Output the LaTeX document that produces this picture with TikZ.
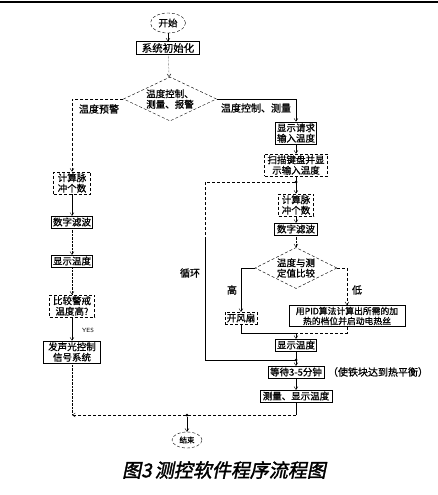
\documentclass[tikz,border=0pt]{standalone}
\usepackage{fontspec}
\newfontfamily\cjk[FakeBold=0.8]{Noto Sans CJK SC}
\newfontfamily\capfont[FakeSlant=0.2,FakeBold=1.8]{Noto Sans CJK SC}
\usetikzlibrary{shapes.geometric, arrows.meta, positioning}
\tikzstyle{arrow} = [
    thin,
    ->,
    >={Straight Barb[length=3pt,width=4pt]}
]

\begin{document}
\begin{tikzpicture}[
    x=1pt, y=-1pt,
    proc/.style={
        draw,
        thin,
        fill=white,
        inner sep=1.5pt,
        font=\cjk\fontsize{9.5}{10.5}\selectfont,
        align=center
    },
    dproc/.style={proc, densely dashed},
    decision/.style={
        draw,
        densely dashed,
        diamond,
        inner sep=0pt,
        aspect=2.1,
        font=\cjk\fontsize{9.5}{10.5}\selectfont,
        align=center
    },
    term/.style={draw, densely dashed, ellipse, inner sep=1pt, font=\cjk\fontsize{9.5}{10}\selectfont},
    lbl/.style={font=\cjk\fontsize{10}{11}\selectfont},
    jdot/.style={circle, fill, inner sep=0pt, minimum size=3pt}
]
\useasboundingbox (0,0) rectangle (438,495);
\draw[line width=1.5pt] (0,2) -- (438,2);

% Nodes
\node[term, minimum width=35pt, minimum height=20pt] (start) at (168,23) {开始};
\node[proc, minimum width=63pt, font=\cjk\fontsize{10.5}{11}\selectfont] (init) at (168,48) {系统初始化};
\node[decision, minimum width=93pt, minimum height=44pt] (d1) at (170,99) {温度控制、\\测量、报警};

\node[dproc, minimum width=37pt] (lcnt) at (72,183) {计算脉\\冲个数};
\node[proc, minimum width=40pt] (lflt) at (72,222) {数字滤波};
\node[proc, minimum width=38pt] (lshow) at (72,261) {显示温度};
\node[dproc, minimum width=45pt] (lcmp) at (72,306) {比较警戒\\温度高?};
\node[proc, minimum width=57pt] (alarm) at (72,352) {发声光控制\\信号系统};

\node[proc, minimum width=39pt] (req) at (296,133) {显示请求\\输入温度};
\node[dproc, minimum width=63pt] (scan) at (296,165) {扫描键盘并显\\示输入温度};
\node[dproc, minimum width=35pt] (rcnt) at (296,205) {计算脉\\冲个数};
\node[proc, minimum width=43pt] (rflt) at (296,229) {数字滤波};
\node[decision, minimum width=82pt, minimum height=41pt] (d2) at (296,268) {温度与测\\定值比较};
\node[dproc, minimum width=28pt] (fan) at (241,318) {开风扇};
\node[proc, minimum width=116pt, font=\cjk\fontsize{8.8}{10}\selectfont] (pid) at (347,316) {用PID算法计算出所需的加\\热的档位并启动电热丝};
\node[proc, minimum width=40pt] (rshow) at (296,345) {显示温度};
\node[proc, minimum width=56pt] (wait) at (296,372) {等待3-5分钟};
\node[proc, minimum width=72pt] (meas) at (296,396) {测量、显示温度};
\node[term, minimum width=30pt, minimum height=16pt, font=\cjk\fontsize{7.5}{8}\selectfont] (stop) at (187,440) {结束};

% Junctions
\coordinate (j1) at (296,182);
\coordinate (j3) at (296,333);
\coordinate (j2) at (296,360);
\coordinate (loopb) at (205,360);
\coordinate (loopc) at (205,240);
\coordinate (loopt) at (205,182);
\coordinate (rend) at (296,415);
\coordinate (lend) at (72,415);
\node[jdot] (j4) at (187,415) {};
\node[jdot] at (j1) {};
\node[jdot] at (j2) {};

% Labels
\node[lbl] (lblwarn) at (99,109) {温度预警};
\node[lbl] (lblctrl) at (256,108) {温度控制、测量};
\node[font=\sffamily\fontsize{6}{6}\selectfont] (lblyes) at (88,330) {YES};
\node[lbl] (lblhigh) at (232,290) {高};
\node[lbl] (lbllow) at (357,290) {低};
\node[lbl] (lblloop) at (190,273) {循环};
\node[lbl] (note) at (378,372) {（使铁块达到热平衡）};
\node[font=\capfont\fontsize{19}{21}\selectfont] (caption) at (224,470) {图3\,测控软件程序流程图};

% Arrows
\draw[arrow] (start) -- (init);
\draw[arrow, densely dotted] (init) -- (d1);
\draw[arrow, densely dashed] (d1.west) -| (lcnt.north);
\draw[arrow] (d1.east) -| (req.north);
\draw[arrow] (lcnt) -- (lflt);
\foreach \from/\to in {lflt/lshow, lshow/lcmp} {
    \draw[arrow, densely dotted] (\from) -- (\to);
}
\draw[arrow] (lcmp) -- (alarm);
\draw[densely dotted] (alarm) -- (lend);

\draw[arrow] (req) -- (scan);
\draw (scan) -- (j1);
\draw[arrow] (j1) -- (rcnt);
\draw[arrow] (rcnt) -- (rflt);
\draw[arrow, densely dotted] (rflt) -- (d2);
\draw[arrow] (d2.west) -| (fan.north);
\draw[arrow, densely dashed] (d2.east) -| (pid.north);
\draw (fan.south) |- (j3);
\draw[densely dashed] (pid.south) |- (j3);
\draw[arrow] (j3) -- (rshow);
\draw (rshow) -- (j2);
\draw[arrow] (j2) -- (wait);
\draw[arrow] (wait) -- (meas);
\draw (j2) -- (loopb) -- (loopc);
\draw[densely dashed] (loopc) -- (loopt) -- (j1);
\draw (meas) -- (rend);
\draw[arrow, densely dashed] (rend) -- (lend);
\draw[arrow] (j4) -- (stop);
\end{tikzpicture}
\end{document}
